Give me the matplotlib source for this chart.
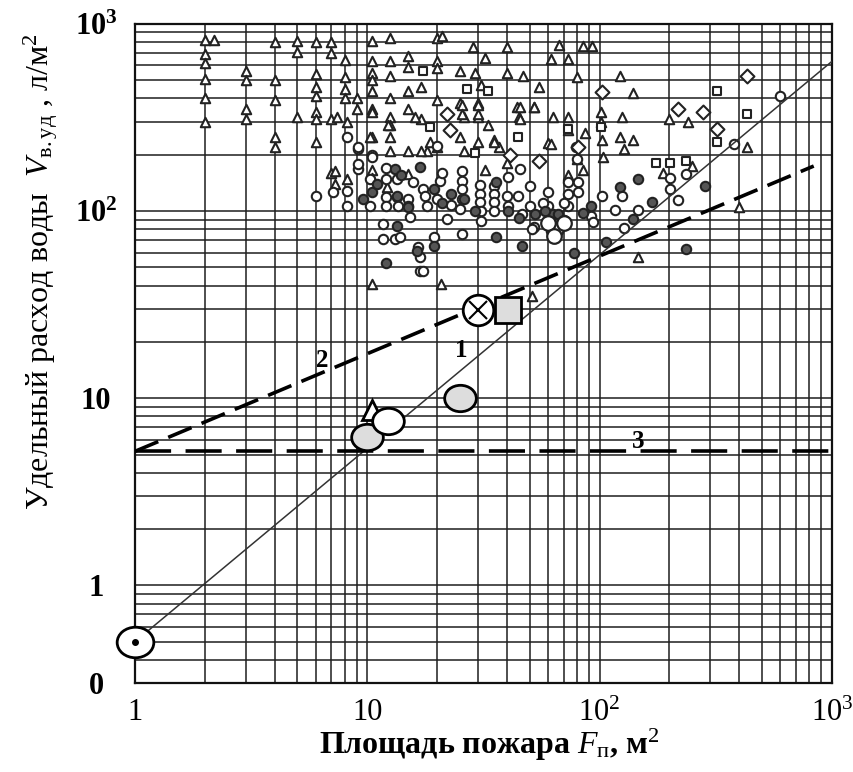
import numpy as np
import matplotlib
matplotlib.use("Agg")
import matplotlib.pyplot as plt
from matplotlib.markers import MarkerStyle
from matplotlib.transforms import Affine2D
from matplotlib.ticker import FixedLocator, LogLocator, NullFormatter

plt.rcParams['font.family'] = ['Liberation Serif', 'DejaVu Serif']
plt.rcParams['mathtext.fontset'] = 'custom'
plt.rcParams['mathtext.rm'] = 'Liberation Serif'
plt.rcParams['mathtext.it'] = 'Liberation Serif:italic'
plt.rcParams['mathtext.bf'] = 'Liberation Serif:bold'

# --- data (F in m2, V in l/m2) ---
tri_x = [2, 2.2, 2, 2, 2, 2, 2, 3, 3, 3, 3, 4, 4, 4, 4, 4, 5, 5, 5,
         6, 6, 6, 6, 6, 6, 6, 7, 7, 7, 7, 7.3, 8, 8, 8, 8, 9, 9,
         10.5, 10.5, 10.5, 10.5, 10.5, 10.5, 10.5, 10.5, 10.5,
         12.5, 12.5, 12.5, 12.5, 12.5, 12.5, 12.5, 12.5,
         15, 15, 15, 15, 15, 17, 17, 18, 20, 20, 20, 20, 20, 20.8,
         21, 25, 28.5, 29, 32, 31, 40, 40, 47, 55, 25, 30, 44, 52, 26, 30, 45,
         63, 73, 101, 125, 140, 123, 67, 62, 73, 85, 93, 80, 33, 25, 35, 37,
         26, 60, 87, 103, 123, 140, 127, 200, 240, 430, 400, 146, 187, 250,
         73, 85, 32, 40, 80, 51, 104, 73, 101, 7.3, 8.2, 12.2, 15, 10.5,
         7.4, 8.2, 10.5, 12.3, 10.3, 16, 18.6, 17, 25.6, 25.6, 30, 30, 30,
         35, 45.5, 52, 45.5, 62]
tri_y = [820, 820, 690, 620, 510, 400, 300, 560, 500, 350, 310, 800, 500, 390, 250, 220, 810, 710, 320,
         800, 540, 460, 410, 340, 310, 235, 800, 700, 310, 160, 140, 640, 520, 450, 400, 400, 350,
         810, 630, 550, 500, 440, 350, 250, 165, 41,
         840, 630, 530, 400, 320, 290, 250, 210,
         670, 590, 440, 350, 210, 460, 310, 210, 630, 840, 580, 390, 220, 41,
         860, 560, 750, 550, 660, 470, 750, 550, 530, 460, 380, 380, 360, 360, 320, 320, 320,
         320, 320, 340, 320, 430, 530, 770, 650, 650, 760, 760, 520, 290, 250, 240, 220,
         210, 230, 260, 240, 250, 240, 215, 310, 300, 220, 105, 57, 160, 175,
         155, 165, 165, 180, 190, 35, 195, 270, 300, 163, 148, 135, 158, 150,
         320, 300, 340, 290, 250, 320, 235, 210, 370, 330, 370, 330, 235,
         235, 360, 360, 310, 228]

circ_x = [6, 7.1, 8.2, 8.2, 10.3, 10.3, 9.1, 10.5, 8.2, 9.1, 12, 12, 12, 12, 13.4, 13.4,
          13.6, 15, 15, 15.8, 17.3, 17.8, 18, 20, 20.5, 21, 20, 22, 25.6, 25.6, 25.6,
          25.6, 25, 23, 25.6, 30.6, 30.6, 30.6, 31, 31, 35, 35, 35, 35, 40, 40.5, 40.5,
          45.5, 44.6, 46.5, 50, 50, 52, 60, 60, 61.5, 73, 73, 73, 81, 81, 92, 79, 80,
          11.7, 13.2, 13.9, 15.3, 11.7, 16.6, 16.9, 16.9, 19.3, 51, 62, 103, 117, 147,
          127, 125, 202, 217, 202, 235, 94, 380, 600, 17.3, 9.1, 9.1, 10.5, 57, 70]
circ_y = [120, 126, 128, 106, 148, 106, 168, 200, 250, 215, 170, 148, 119, 106, 148, 119,
          106, 116, 106, 143, 131, 120, 106, 116, 145, 160, 222, 91, 163, 145, 131,
          116, 102, 108, 75, 138, 123, 112, 100, 88, 136, 123, 112, 100, 120, 106, 152,
          168, 120, 96, 106, 136, 82, 126, 106, 96, 143, 123, 106, 143, 126, 94, 220, 190,
          71, 71, 73, 93, 85, 64, 48, 57, 73, 80, 78, 120, 101, 101,
          81, 120, 131, 115, 150, 157, 87, 228, 410, 48, 220, 178, 195, 110, 110]

dot_x = [9.6, 10.5, 13.2, 13.4, 15, 16.9, 19.3, 23, 26, 36, 36, 46.5, 40.5, 63, 78, 12,
         13.4, 19.3, 16.4, 58, 53, 66, 92, 146, 285, 235, 123, 169, 107, 140, 11, 14,
         21, 29, 45, 70, 85]
dot_y = [116, 126, 168, 120, 105, 171, 131, 123, 116, 143, 73, 65, 100, 96, 60, 53,
         83, 65, 61, 100, 96, 96, 106, 148, 136, 63, 134, 112, 68, 91, 140, 155,
         110, 100, 92, 90, 98]

sq_x = [17.4, 27, 18.7, 29, 44.7, 73, 101, 320, 430, 320, 175, 202, 235, 33]
sq_y = [560, 450, 280, 205, 250, 275, 280, 440, 330, 235, 180, 180, 185, 440]

dia_x = [430, 217, 280, 320, 103, 81, 41, 55, 22, 22.7]
dia_y = [530, 350, 340, 275, 435, 220, 200, 185, 330, 270]

# curves 1, 2, 3
line1_x = [1, 1000]
line1_y = [0.5, 630]
line2_x = [1, 836]
line2_y = [5.2, 174]
line3_x = [1, 1000]
line3_y = [5.2, 5.2]

# reference points (large markers)
ref_dot = (1, 0.5)
ref_cross = (30, 29.5)
ref_square = (40.5, 29.5)
ref_gray = [(25.2, 10), (10, 6.2)]
ref_white = (12.3, 7.6)
ref_tri = (10.5, 8.7)
ref_cluster_x = [65, 60, 70, 64]
ref_cluster_y = [80, 86, 86, 74]

xticks = [1, 10, 100, 1000]
xticklabels = ['1', '10', '10$^2$', '10$^3$']
yticks = [0.3, 1, 10, 100, 1000]
yticklabels = ['0', '1', '10', '10$^{\\mathbf{2}}$', '10$^{\\mathbf{3}}$']

fig = plt.figure(figsize=(8.54, 7.72), dpi=100)
ax = fig.add_axes([0.158, 0.115, 0.816, 0.854])
ax.set_xscale('log')
ax.set_yscale('log')
ax.set_xlim(1, 1000)
ax.set_ylim(0.3, 1000)

ax.xaxis.set_major_locator(FixedLocator(xticks))
ax.yaxis.set_major_locator(FixedLocator(yticks))
ax.xaxis.set_minor_locator(LogLocator(base=10, subs=np.arange(2, 10)))
ax.yaxis.set_minor_locator(LogLocator(base=10, subs=np.arange(2, 10)))
ax.xaxis.set_minor_formatter(NullFormatter())
ax.yaxis.set_minor_formatter(NullFormatter())
ax.set_xticklabels(xticklabels, fontsize=22)
ax.set_yticklabels(yticklabels, fontsize=22, fontweight='bold', ha='center')
ax.tick_params(which='both', length=0)
ax.tick_params(axis='x', pad=11)
ax.tick_params(axis='y', pad=28)
ax.grid(True, which='both', color='#1e1e1e', lw=1.1)
ax.set_axisbelow(True)
for s in ax.spines.values():
    s.set_linewidth(1.6)
    s.set_color('#111111')

ms = 46
ax.scatter(tri_x, tri_y, s=ms, marker='^', facecolor='white', edgecolor='#222', lw=1.5, zorder=3)
ax.scatter(circ_x, circ_y, s=ms, marker='o', facecolor='white', edgecolor='#222', lw=1.5, zorder=3)
ax.scatter(dot_x, dot_y, s=ms, marker='o', facecolor='#555555', edgecolor='#222', lw=1.5, zorder=3)
ax.scatter(sq_x, sq_y, s=40, marker='s', facecolor='white', edgecolor='#222', lw=1.5, zorder=3)
ax.scatter(dia_x, dia_y, s=50, marker='D', facecolor='white', edgecolor='#222', lw=1.5, zorder=3)

ax.plot(line1_x, line1_y, color='#333333', lw=1.1, zorder=4)
ax.plot(line2_x, line2_y, color='black', lw=2.6, dashes=(7, 3), zorder=4)
ax.plot(line3_x, line3_y, color='black', lw=2.6, dashes=(10, 4), zorder=4)

ell = MarkerStyle('o', transform=Affine2D().scale(1.2, 1.0))
ax.plot(*ref_dot, marker=ell, ms=22, mfc='white', mec='black', mew=2, zorder=6, clip_on=False)
ax.plot(*ref_dot, marker='o', ms=4, color='black', zorder=7, clip_on=False)
ax.plot(*ref_cross, marker='o', ms=22, mfc='white', mec='black', mew=2, zorder=6)
ax.plot(*ref_cross, marker='x', ms=13, color='black', mew=1.5, zorder=7)
ax.plot(*ref_square, marker='s', ms=19, mfc='#dddddd', mec='black', mew=2, zorder=6)
for gx, gy in ref_gray:
    ax.plot(gx, gy, marker=ell, ms=19, mfc='#dddddd', mec='black', mew=2, zorder=6)
ax.plot(*ref_tri, marker='^', ms=14, mfc='white', mec='black', mew=2, zorder=6)
ax.plot(*ref_white, marker=ell, ms=19, mfc='white', mec='black', mew=2, zorder=6)
ax.scatter(ref_cluster_x, ref_cluster_y, s=110, marker='o', facecolor='white', edgecolor='#222', lw=1.6, zorder=5)

ax.text(25.5, 18, '1', fontsize=18, fontweight='bold', ha='center', va='center', zorder=8)
ax.text(6.4, 16, '2', fontsize=18, fontweight='bold', ha='center', va='center', zorder=8)
ax.text(147, 5.9, '3', fontsize=18, fontweight='bold', ha='center', va='center', zorder=8)

ax.set_ylabel('Удельный расход воды  $V_{\\mathrm{в.уд}}$ , л/м$^2$', fontsize=23)
ax.yaxis.set_label_coords(-0.108, 0.625)
ax.set_xlabel('Площадь пожара $F_{\\mathrm{п}}$, м$^2$', fontsize=23, fontweight='bold')
ax.xaxis.set_label_coords(0.508, -0.066)

fig.savefig('out.png', dpi=100, facecolor='white')
